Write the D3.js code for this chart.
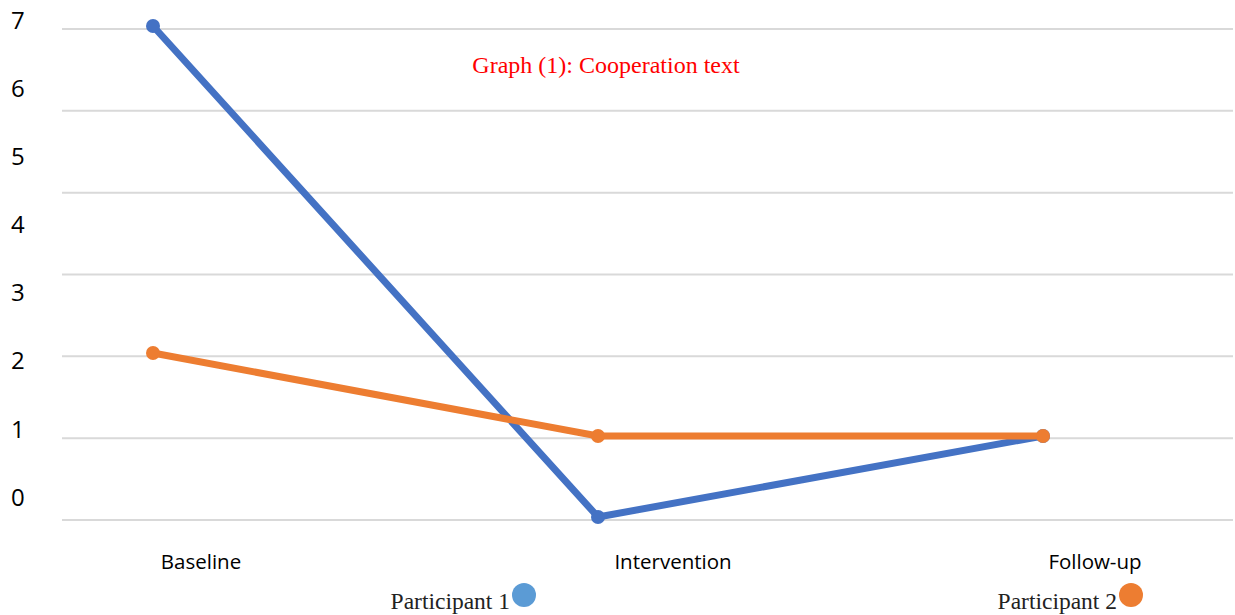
<!DOCTYPE html>
<html>
<head>
    <style>
        body { margin: 0; background: #fff; }
        .grid line { stroke: #d9d9d9; stroke-width: 2px; }
        .ylab text { font: 24px "Open Sans", sans-serif; fill: #000; }
        .xlab text { font: 20.5px "Open Sans", sans-serif; fill: #000; }
        .series path { fill: none; stroke-width: 7px; stroke-linejoin: round; }
        .legend text { font: 23.5px "Liberation Serif", "Times New Roman", serif; fill: #222; }
        .title { font: 24px "Liberation Serif", "Times New Roman", serif; fill: #ff0000; }
    </style>
</head>
<body>
    <script src="https://d3js.org/d3.v7.min.js"></script>
    <script>
        // Data
        var categories = ["Baseline", "Intervention", "Follow-up"];
        var participant1 = [7, 0, 1];
        var participant2 = [2, 1, 1];
        var yTickLabels = [0, 1, 2, 3, 4, 5, 6, 7];
        var gridSteps = [0, 1, 2, 3, 4, 5, 6];
        var seriesNames = ["Participant 1", "Participant 2"];

        var width = 1235, height = 615;

        var svg = d3.select("body").append("svg")
            .attr("width", width)
            .attr("height", height);

        // Scales (the source picture has its labels, grid and data slightly out of step)
        var x = d3.scalePoint().domain(categories).range([153, 1043]);
        var xLabel = d3.scaleOrdinal().domain(categories).range([201, 673, 1095]);
        var y = d3.scaleLinear().domain([0, 1, 2, 7]).range([517, 436, 353, 26]);
        var yGrid = d3.scaleLinear().domain([0, 6]).range([520, 29]);
        var yLabel = d3.scaleLinear().domain([0, 7]).range([497, 20.5]);

        // Gridlines
        svg.append("g").attr("class", "grid")
            .selectAll("line")
            .data(gridSteps)
            .enter().append("line")
            .attr("x1", 62).attr("x2", 1233)
            .attr("y1", function (d) { return yGrid(d); })
            .attr("y2", function (d) { return yGrid(d); });

        // Y labels
        svg.append("g").attr("class", "ylab")
            .selectAll("text")
            .data(yTickLabels)
            .enter().append("text")
            .attr("x", 11)
            .attr("y", function (d) { return yLabel(d); })
            .attr("dy", "0.36em")
            .text(function (d) { return d; });

        // X labels
        svg.append("g").attr("class", "xlab")
            .selectAll("text")
            .data(categories)
            .enter().append("text")
            .attr("x", function (d) { return xLabel(d); })
            .attr("y", 569)
            .attr("text-anchor", "middle")
            .text(function (d) { return d; });

        // Series
        var series = [
            { name: seriesNames[0], values: participant1, color: "#4472c4" },
            { name: seriesNames[1], values: participant2, color: "#ed7d31" }
        ];

        var line = d3.line()
            .x(function (d, i) { return x(categories[i]); })
            .y(function (d) { return y(d); });

        var g = svg.selectAll(".series")
            .data(series)
            .enter().append("g")
            .attr("class", "series");

        g.append("path")
            .attr("d", function (d) { return line(d.values); })
            .style("stroke", function (d) { return d.color; });

        g.selectAll("circle")
            .data(function (d) { return d.values.map(function (v, i) { return { v: v, i: i, color: d.color }; }); })
            .enter().append("circle")
            .attr("cx", function (d) { return x(categories[d.i]); })
            .attr("cy", function (d) { return y(d.v); })
            .attr("r", 7)
            .style("fill", function (d) { return d.color; });

        // Title
        svg.append("text")
            .attr("class", "title")
            .attr("x", 606)
            .attr("y", 73)
            .attr("text-anchor", "middle")
            .text("Graph (1): Cooperation text");

        // Legend
        var legend = [
            { name: seriesNames[0], x: 510, color: "#5b9bd5" },
            { name: seriesNames[1], x: 1117, color: "#ed7d31" }
        ];
        var lg = svg.append("g").attr("class", "legend")
            .selectAll("g")
            .data(legend)
            .enter().append("g");
        lg.append("text")
            .attr("x", function (d) { return d.x; })
            .attr("y", 609)
            .attr("text-anchor", "end")
            .text(function (d) { return d.name; });
        lg.append("circle")
            .attr("cx", function (d) { return d.x + 14; })
            .attr("cy", 595)
            .attr("r", 12)
            .style("fill", function (d) { return d.color; });
    </script>
</body>
</html>
